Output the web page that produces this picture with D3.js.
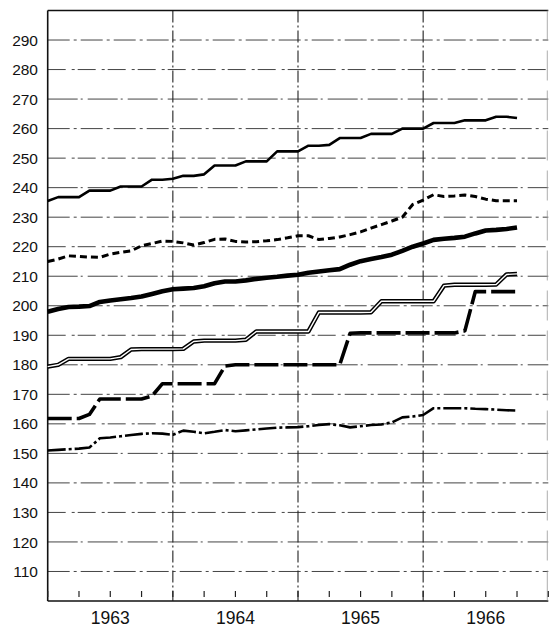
<!DOCTYPE html>
<html>
<head>
<meta charset="utf-8">
<script src="https://cdn.jsdelivr.net/npm/d3@7"></script>
<style>
  html, body { margin: 0; padding: 0; background: #fff; }
  svg { display: block; }
  text { font-family: "Liberation Sans", Arial, Helvetica, sans-serif; fill: #111; }
</style>
</head>
<body>
<svg id="chart" width="549" height="629"></svg>
<script>
// ---- data (monthly, Jan 1963 .. Oct 1966) ----
const startYear = 1963;
const yearLabels = ["1963", "1964", "1965", "1966"];
const yTickValues = [110, 120, 130, 140, 150, 160, 170, 180, 190, 200, 210, 220, 230, 240, 250, 260, 270, 280, 290];

const seriesTop = [235.5, 236.8, 236.8, 236.8, 239.0, 239.0, 239.0, 240.4, 240.4, 240.4, 242.7, 242.7,
  243.0, 244.0, 244.0, 244.5, 247.5, 247.5, 247.5, 248.9, 248.9, 248.9, 252.3, 252.3,
  252.3, 254.2, 254.2, 254.5, 256.8, 256.8, 256.8, 258.2, 258.2, 258.2, 260.0, 260.0,
  260.0, 261.9, 261.9, 261.9, 262.8, 262.8, 262.8, 264.0, 264.0, 263.6];

const seriesDashed = [215.0, 215.8, 216.9, 216.7, 216.5, 216.4, 217.5, 218.1, 218.6, 220.3, 221.1, 221.9,
  221.8, 221.3, 220.6, 221.4, 222.5, 222.6, 221.8, 221.6, 221.7, 222.0, 222.4, 223.0,
  223.7, 223.7, 222.4, 222.8, 223.3, 224.1, 225.0, 226.3, 227.5, 228.7, 230.0, 234.3,
  235.8, 237.6, 237.0, 237.2, 237.5, 237.0, 236.1, 235.6, 235.6, 235.6];

const seriesThick = [198.0, 198.9, 199.6, 199.7, 199.9, 201.3, 201.8, 202.2, 202.6, 203.1, 204.0, 204.9,
  205.6, 205.8, 206.0, 206.6, 207.6, 208.2, 208.2, 208.6, 209.1, 209.5, 209.8, 210.2,
  210.5, 211.2, 211.6, 212.0, 212.4, 213.9, 215.1, 215.8, 216.5, 217.3, 218.6, 220.0,
  221.1, 222.3, 222.7, 223.0, 223.4, 224.5, 225.5, 225.7, 226.0, 226.5];

const seriesDouble = [179.4, 180.0, 182.0, 182.0, 182.0, 182.0, 182.0, 182.6, 185.2, 185.3, 185.3, 185.3,
  185.3, 185.4, 187.9, 188.2, 188.2, 188.2, 188.2, 188.5, 191.3, 191.3, 191.3, 191.3,
  191.3, 191.3, 197.7, 197.7, 197.7, 197.7, 197.7, 197.8, 201.5, 201.5, 201.5, 201.5,
  201.5, 201.5, 206.8, 207.1, 207.1, 207.1, 207.1, 207.2, 210.6, 210.8];

const seriesLongDash = [161.8, 161.8, 161.8, 161.8, 163.2, 168.4, 168.4, 168.4, 168.4, 168.4, 169.4, 173.6,
  173.6, 173.6, 173.6, 173.6, 173.6, 179.6, 180.0, 180.0, 180.0, 180.0, 180.0, 180.0,
  180.0, 180.0, 180.0, 180.0, 180.0, 190.7, 190.8, 190.8, 190.8, 190.8, 190.8, 190.8,
  190.8, 190.8, 190.8, 190.8, 191.5, 204.8, 204.8, 204.8, 204.8, 204.8];

const seriesDashDot = [151.0, 151.2, 151.4, 151.6, 152.0, 155.1, 155.4, 155.8, 156.2, 156.6, 156.8, 156.7,
  156.3, 157.7, 157.3, 156.8, 157.3, 157.9, 157.5, 157.8, 158.1, 158.4, 158.7, 158.8,
  158.9, 159.2, 159.6, 159.9, 159.5, 158.8, 159.2, 159.6, 159.8, 160.5, 162.2, 162.5,
  163.0, 165.3, 165.3, 165.3, 165.3, 165.1, 165.0, 164.8, 164.6, 164.5];

// ---- drawing ----
const svg = d3.select("#chart");
const x = d3.scaleLinear().domain([1963, 1967]).range([47.7, 548.3]);
const y = d3.scaleLinear().domain([100, 300]).range([601, 10.5]);

// horizontal grid
svg.append("g").selectAll("line").data(yTickValues).join("line")
  .attr("x1", x(1963)).attr("x2", x(1967))
  .attr("y1", d => y(d)).attr("y2", d => y(d))
  .attr("stroke", "#444").attr("stroke-width", 1)
  .attr("stroke-dasharray", (d, i) => ["22,4,3,4", "30,3,2,5", "18,6,3,3"][i % 3]);

// vertical grid at year boundaries
svg.append("g").selectAll("line").data([1964, 1965, 1966]).join("line")
  .attr("x1", d => x(d)).attr("x2", d => x(d))
  .attr("y1", y(300)).attr("y2", y(100))
  .attr("stroke", "#222").attr("stroke-width", 1.1)
  .attr("stroke-dasharray", "12,3,2,3");

// frame: top, left, bottom, faint right
svg.append("line").attr("x1", x(1963)).attr("x2", x(1967)).attr("y1", y(300)).attr("y2", y(300))
  .attr("stroke", "#111").attr("stroke-width", 1.6);
svg.append("line").attr("x1", x(1963)).attr("x2", x(1963)).attr("y1", y(300)).attr("y2", y(100))
  .attr("stroke", "#111").attr("stroke-width", 1.6);
svg.append("line").attr("x1", x(1963)).attr("x2", x(1967)).attr("y1", y(100)).attr("y2", y(100))
  .attr("stroke", "#111").attr("stroke-width", 1.6);
svg.append("line").attr("x1", x(1967) - 1).attr("x2", x(1967) - 1).attr("y1", y(300)).attr("y2", y(100))
  .attr("stroke", "#999").attr("stroke-width", 0.8).attr("stroke-dasharray", "30,10");

// quarterly ticks on bottom axis
const quarterTicks = d3.range(1963, 1967.01, 0.25);
svg.append("g").selectAll("line").data(quarterTicks).join("line")
  .attr("x1", d => x(d)).attr("x2", d => x(d))
  .attr("y1", y(100) - 10).attr("y2", y(100) - 4)
  .attr("stroke", "#222").attr("stroke-width", 1.2);

// y labels
svg.append("g").selectAll("text").data(yTickValues).join("text")
  .attr("x", 38).attr("y", d => y(d))
  .attr("dy", "0.36em").attr("text-anchor", "end")
  .attr("font-size", "15.5px")
  .text(d => d);

// x labels (centered within each year)
svg.append("g").selectAll("text").data(yearLabels).join("text")
  .attr("x", d => x(+d + 0.5)).attr("y", 624)
  .attr("text-anchor", "middle")
  .attr("font-size", "17.5px")
  .text(d => d);

// lines
const line = d3.line().x((d, i) => x(startYear + i / 12)).y(d => y(d));

function draw(data, width, dash, color) {
  svg.append("path").datum(data)
    .attr("d", line).attr("fill", "none")
    .attr("stroke", color || "#000").attr("stroke-width", width)
    .attr("stroke-linejoin", "round")
    .attr("stroke-dasharray", dash || null);
}

draw(seriesTop, 2.6);
draw(seriesDashed, 3, "7,4");
draw(seriesThick, 4.6);
draw(seriesDouble, 4.4);
draw(seriesDouble, 1.4, null, "#fff");
draw(seriesLongDash, 3.6, "24,5");
draw(seriesDashDot, 2.6, "18,3,3,3");
</script>
</body>
</html>
